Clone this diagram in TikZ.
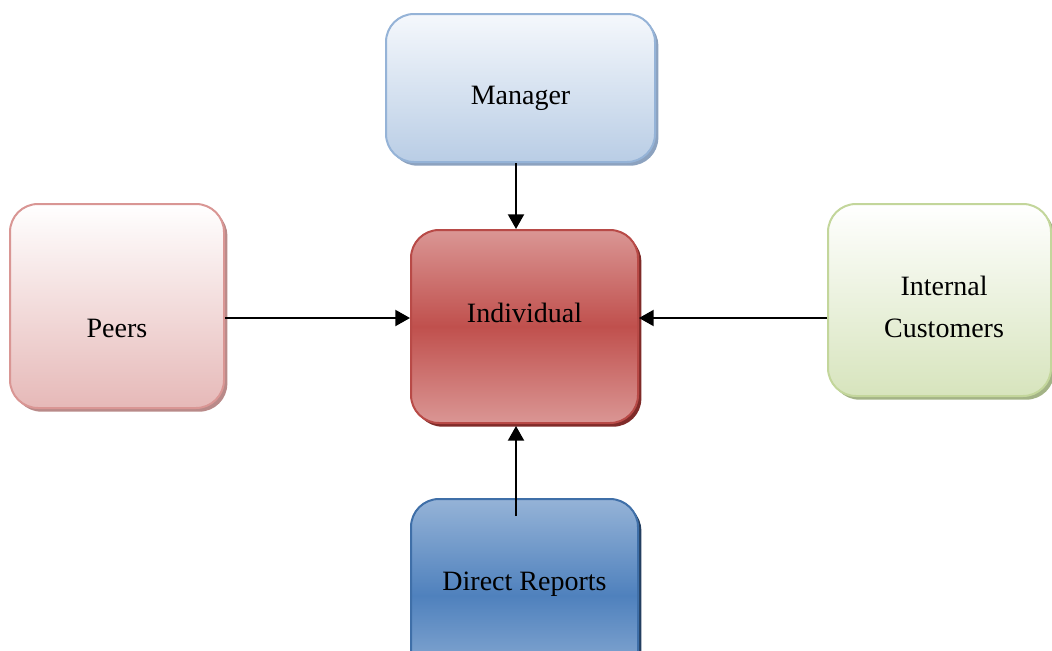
\documentclass[tikz,border=0pt]{standalone}
\usepackage{fontspec}
\setmainfont{Liberation Serif}
\usetikzlibrary{arrows.meta,shadows}
\definecolor{mgrB}{HTML}{95B3D7}\definecolor{mgrT}{HTML}{F5F8FC}\definecolor{mgrM}{HTML}{B9CDE5}\definecolor{mgrS}{HTML}{8CA2BF}
\definecolor{peeB}{HTML}{D99694}\definecolor{peeT}{HTML}{FFFFFF}\definecolor{peeM}{HTML}{E6B9B8}\definecolor{peeS}{HTML}{B98A89}
\definecolor{indB}{HTML}{B84A47}\definecolor{indT}{HTML}{DA9694}\definecolor{indM}{HTML}{C0504D}\definecolor{indS}{HTML}{7F2B29}
\definecolor{intB}{HTML}{C3D69B}\definecolor{intT}{HTML}{FFFFFF}\definecolor{intM}{HTML}{D7E4BD}\definecolor{intS}{HTML}{A3B386}
\definecolor{dirB}{HTML}{3F6FA8}\definecolor{dirT}{HTML}{95B3D7}\definecolor{dirM}{HTML}{4F81BD}\definecolor{dirS}{HTML}{243F60}
\tikzset{
  box/.style={draw, line width=1.5pt, rounded corners=21pt, inner sep=0pt},
  lbl/.style={font=\fontsize{21}{31.5}\selectfont, align=center, text=black},
  arr/.style={line width=1.5pt, -{Triangle[length=11pt,width=12pt]}},
  shd/.style={general shadow={fill=#1, shadow xshift=2.5pt, shadow yshift=-2.75pt}}
}
\begin{document}
\begin{tikzpicture}[x=0.75pt,y=-0.75pt]
\useasboundingbox (0,0) rectangle (1052,650);
\clip (0,0) rectangle (1052,650);
\node[box, shd=mgrS, draw=mgrB, top color=mgrT, bottom color=mgrM,
  minimum width=201.75pt, minimum height=111pt,
  label={[lbl, yshift=-7.5pt]center:Manager}] (mgr) at (520.5,88) {};
\node[box, shd=peeS, draw=peeB, top color=peeT, bottom color=peeM,
  minimum width=160.5pt, minimum height=153pt,
  label={[lbl, yshift=-16.5pt]center:Peers}] (peers) at (117,306) {};
\node[box, shd=indS, draw=indB, top color=indT, bottom color=indT, middle color=indM,
  minimum width=170.25pt, minimum height=144.75pt,
  label={[lbl, yshift=10pt]center:Individual}] (ind) at (524.5,326.5) {};
\node[box, shd=intS, draw=intB, top color=intT, bottom color=intM,
  minimum width=167.25pt, minimum height=144pt,
  label={[lbl, xshift=3.4pt, yshift=-5.25pt]center:Internal\\Customers}] (int) at (939.5,300) {};
\node[box, shd=dirS, draw=dirB, top color=dirT, bottom color=dirT, middle color=dirM,
  minimum width=170.25pt, minimum height=144.75pt,
  label={[lbl, yshift=8.7pt]center:Direct Reports}] (dir) at (524.5,595.5) {};
\coordinate (ax) at (516,0);
\coordinate (ay) at (0,318);
\coordinate (drs) at (516,516);
\draw[arr] (mgr.south -| ax) -- (ind.north -| ax);
\draw[arr] (peers.east |- ay) -- (ind.west |- ay);
\draw[arr] (int.west |- ay) -- (ind.east |- ay);
\draw[arr] (drs) -- ([yshift=-1.5pt]ind.south -| ax);
\end{tikzpicture}
\end{document}
